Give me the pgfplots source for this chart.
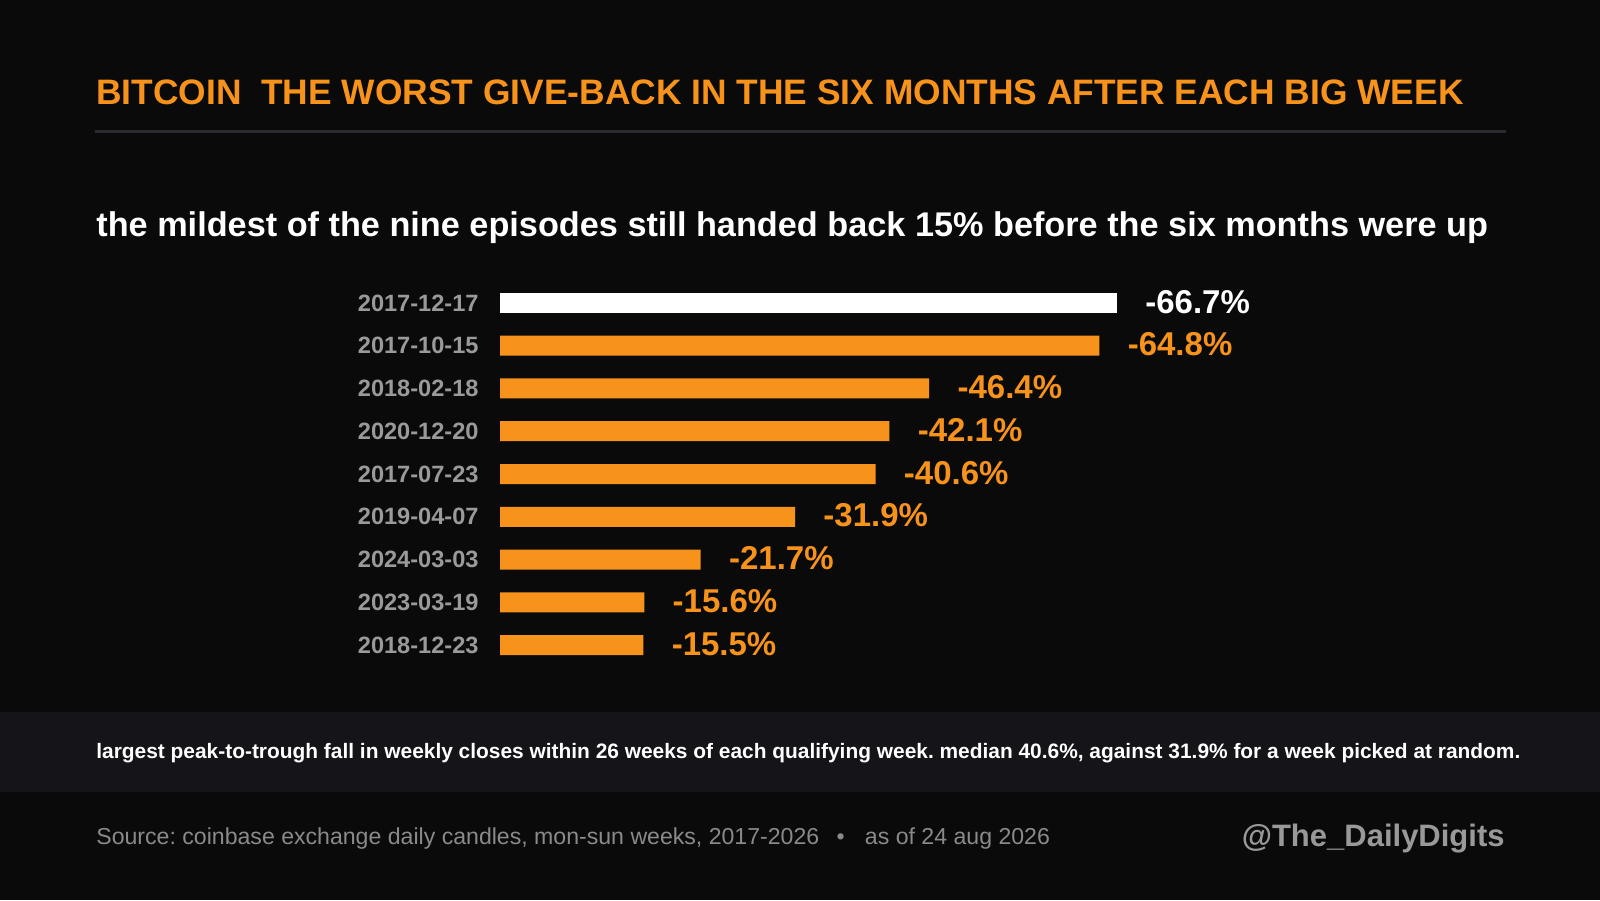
\documentclass[border=0pt]{standalone}
\usepackage{pgfplots}
\pgfplotsset{compat=1.18}
\usepackage{fontspec}
\setmainfont{Liberation Sans}
\frenchspacing
\definecolor{bg}{HTML}{0A0A0A}
\definecolor{band}{HTML}{141419}
\definecolor{btc}{HTML}{F7931A}
\definecolor{rule}{HTML}{2A2A30}
\definecolor{dategray}{HTML}{9A9A9A}
\definecolor{srcgray}{HTML}{8A8A8A}
\definecolor{handle}{HTML}{999999}
\begin{document}
\begin{tikzpicture}[x=1pt,y=1pt]
\fill[bg] (0,0) rectangle (800,450);
\fill[band] (0,53.8) rectangle (800,94);
\node[anchor=base west, inner sep=0, text=btc, font=\bfseries\fontsize{17.68}{20}\selectfont] at (48,397.5) {BITCOIN\ \ THE WORST GIVE-BACK IN THE SIX MONTHS AFTER EACH BIG WEEK};
\draw[line width=1.5pt, rule] (47.5,384.3) -- (753,384.3);
\node[anchor=base west, inner sep=0, text=white, font=\bfseries\fontsize{17.13}{19}\selectfont] at (48,331.5) {the mildest of the nine episodes still handed back 15\% before the six months were up};
\begin{axis}[
  at={(250pt,116.8pt)}, anchor=south west,
  scale only axis, width=462.5pt, height=192.4pt,
  xmin=0, xmax=100, ymin=-0.5, ymax=8.5, y dir=reverse,
  axis line style={draw=none}, major tick length=0pt,
  xtick=\empty, ytick={0,...,8},
  yticklabels={2017-12-17,2017-10-15,2018-02-18,2020-12-20,2017-07-23,2019-04-07,2024-03-03,2023-03-19,2018-12-23},
  yticklabel style={font=\bfseries\fontsize{11.8}{14}\selectfont, text=dategray, inner sep=0pt, xshift=-10.5pt},
  xbar, bar width=10pt, bar shift=0pt,
  nodes near coords, point meta=explicit symbolic,
  every node near coord/.append style={font=\bfseries\fontsize{16.5}{18}\selectfont, inner sep=0pt, xshift=14pt, yshift=0.6pt, anchor=west},
  clip=false,
]
\addplot[draw=none, fill=white, every node near coord/.append style={text=white}] coordinates {(66.7,0) [-66.7\%]};
\addplot[draw=none, fill=btc, every node near coord/.append style={text=btc}] coordinates {
(64.8,1) [-64.8\%]
(46.4,2) [-46.4\%]
(42.1,3) [-42.1\%]
(40.6,4) [-40.6\%]
(31.9,5) [-31.9\%]
(21.7,6) [-21.7\%]
(15.6,7) [-15.6\%]
(15.5,8) [-15.5\%]
};
\end{axis}
\node[anchor=base west, inner sep=0, text=white, font=\bfseries\fontsize{10.45}{12}\selectfont] at (48,70.85) {largest peak-to-trough fall in weekly closes within 26 weeks of each qualifying week. median 40.6\%, against 31.9\% for a week picked at random.};
\node[anchor=base west, inner sep=0, text=srcgray, font=\fontsize{11.55}{14}\selectfont] at (48,28) {Source: coinbase exchange daily candles, mon-sun weeks, 2017-2026\hspace{0.75em}•\hspace{0.88em}as of 24 aug 2026};
\node[anchor=base east, inner sep=0, text=handle, font=\bfseries\fontsize{15.5}{17}\selectfont] at (752.5,27) {@The\_DailyDigits};
\end{tikzpicture}
\end{document}
